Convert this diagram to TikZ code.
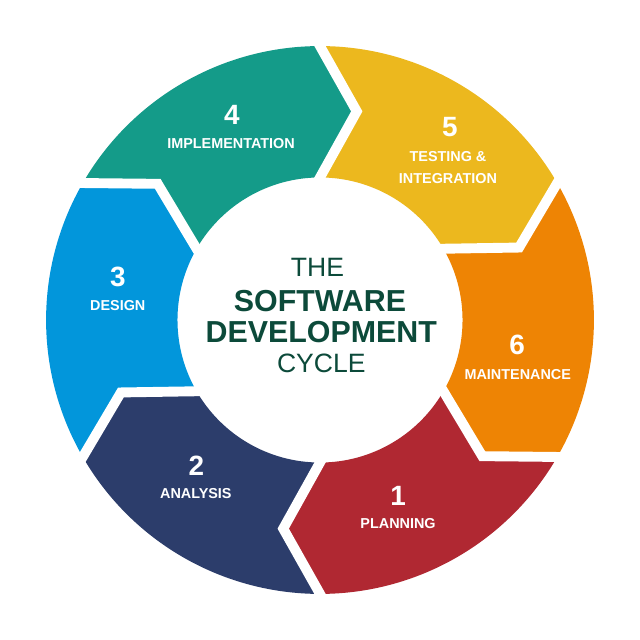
\documentclass[tikz,border=0pt]{standalone}
\usepackage{fontspec}
\setmainfont{Liberation Sans}
\usepackage{xcolor}
\usepackage{tikz}
\usetikzlibrary{calc}
\definecolor{planred}{RGB}{176,40,50}
\definecolor{anavy}{RGB}{44,61,107}
\definecolor{desblue}{RGB}{2,150,219}
\definecolor{implteal}{RGB}{20,155,137}
\definecolor{testyellow}{RGB}{236,184,30}
\definecolor{maintorange}{RGB}{238,132,4}
\definecolor{cyclegreen}{RGB}{12,74,58}

\begin{document}
\begin{tikzpicture}[
    seam/.style={white, line width=4.4pt},
    stepnum/.style={text=white, font=\bfseries\fontsize{12.4}{14}\selectfont},
    steplabel/.style={text=white, font=\bfseries\fontsize{6.4}{9.8}\selectfont, align=center},
    centretext/.style={text=cyclegreen, font=\fontsize{11.8}{14}\selectfont},
    centrebold/.style={text=cyclegreen, font=\bfseries\fontsize{13.5}{16}\selectfont}
  ]

		    \fill[white] (-5,-5) rectangle (5,5);

		    \coordinate (o61) at (-30:4.28);
		    \coordinate (t61) at (-40:3.31);
		    \coordinate (i61) at (-30:2.227);
		    \coordinate (o12) at (-90:4.28);
		    \coordinate (t12) at (-100:3.31);
		    \coordinate (i12) at (-90:2.227);
		    \coordinate (o23) at (-150:4.28);
		    \coordinate (t23) at (-160:3.31);
		    \coordinate (i23) at (-150:2.227);
		    \coordinate (o34) at (150:4.28);
		    \coordinate (t34) at (140:3.31);
		    \coordinate (i34) at (150:2.227);
		    \coordinate (o45) at (90:4.28);
		    \coordinate (t45) at (80:3.31);
		    \coordinate (i45) at (90:2.227);
		    \coordinate (o56) at (30:4.28);
		    \coordinate (t56) at (20:3.31);
		    \coordinate (i56) at (30:2.227);

		    \fill[planred] (o61) arc[start angle=-30, end angle=-90, radius=4.28] -- (t12) -- (i12) arc[start angle=-90, end angle=-30, radius=2.227] -- (t61) -- cycle;
		    \fill[anavy] (o12) arc[start angle=-90, end angle=-150, radius=4.28] -- (t23) -- (i23) arc[start angle=-150, end angle=-90, radius=2.227] -- (t12) -- cycle;
		    \fill[desblue] (o23) arc[start angle=-150, end angle=-210, radius=4.28] -- (t34) -- (i34) arc[start angle=-210, end angle=-150, radius=2.227] -- (t23) -- cycle;
		    \fill[implteal] (o34) arc[start angle=150, end angle=90, radius=4.28] -- (t45) -- (i45) arc[start angle=90, end angle=150, radius=2.227] -- (t34) -- cycle;
		    \fill[testyellow] (o45) arc[start angle=90, end angle=30, radius=4.28] -- (t56) -- (i56) arc[start angle=30, end angle=90, radius=2.227] -- (t45) -- cycle;
		    \fill[maintorange] (o56) arc[start angle=30, end angle=-30, radius=4.28] -- (t61) -- (i61) arc[start angle=-30, end angle=30, radius=2.227] -- (t56) -- cycle;

		    \draw[seam] ($(t61)!1.4!(o61)$) -- (t61) -- ($(t61)!1.4!(i61)$);
		    \draw[seam] ($(t12)!1.4!(o12)$) -- (t12) -- ($(t12)!1.4!(i12)$);
		    \draw[seam] ($(t23)!1.4!(o23)$) -- (t23) -- ($(t23)!1.4!(i23)$);
		    \draw[seam] ($(t34)!1.4!(o34)$) -- (t34) -- ($(t34)!1.4!(i34)$);
		    \draw[seam] ($(t45)!1.4!(o45)$) -- (t45) -- ($(t45)!1.4!(i45)$);
		    \draw[seam] ($(t56)!1.4!(o56)$) -- (t56) -- ($(t56)!1.4!(i56)$);

		    \node[stepnum] (n1) at (1.22,-2.75) {1};
		    \node[steplabel] (l1) at (1.22,-3.18) {PLANNING};
		    \node[stepnum] (n2) at (-1.93,-2.28) {2};
		    \node[steplabel] (l2) at (-1.94,-2.71) {ANALYSIS};
		    \node[stepnum] (n3) at (-3.16,0.68) {3};
		    \node[steplabel] (l3) at (-3.16,0.23) {DESIGN};
		    \node[stepnum] (n4) at (-1.375,3.2) {4};
		    \node[steplabel] (l4) at (-1.39,2.75) {IMPLEMENTATION};
		    \node[stepnum] (n5) at (2.03,3.01) {5};
		    \node[steplabel] (l5) at (2.0,2.375) {TESTING \&\\INTEGRATION};
		    \node[stepnum] (n6) at (3.08,-0.39) {6};
		    \node[steplabel] (l6) at (3.09,-0.86) {MAINTENANCE};

		    \node[centretext] (the) at (-0.04,0.83) {THE};
		    \node[centrebold] (soft) at (0,0.3) {SOFTWARE};
		    \node[centrebold] (dev) at (0.02,-0.19) {DEVELOPMENT};
		    \node[centretext] (cyc) at (0.02,-0.67) {CYCLE};

	    \end{tikzpicture}
\end{document}
